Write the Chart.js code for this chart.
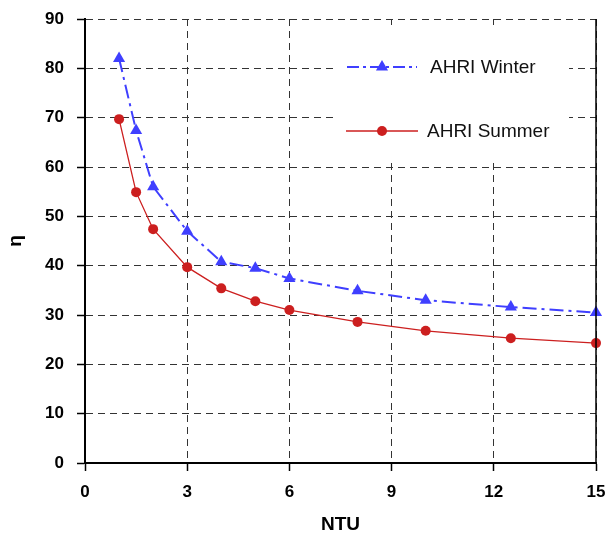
<!DOCTYPE html>
<html>
<head>
<meta charset="utf-8">
<script src="https://cdn.jsdelivr.net/npm/chart.js@4.4.0/dist/chart.umd.min.js"></script>
<style>
  html, body { margin: 0; padding: 0; background: #fff; }
  #wrap { width: 606px; height: 535px; }
</style>
</head>
<body>
<div id="wrap"><canvas id="chart"></canvas></div>
<script>
// Data
const ntu = [1, 1.5, 2, 3, 4, 5, 6, 8, 10, 12.5, 15];
const winter = [82, 67.4, 56, 47, 40.8, 39.5, 37.4, 34.9, 33, 31.6, 30.5];
const summer = [69.7, 54.9, 47.4, 39.7, 35.4, 32.8, 31, 28.6, 26.8, 25.3, 24.3];
const seriesNames = ['AHRI Winter', 'AHRI Summer'];
const xTitle = 'NTU';
const yTitle = 'η';

const BLUE = '#3f3fff';
const RED = '#cc1f1f';
const FONT = 'Arial, "Liberation Sans", sans-serif';
const WINTER_DASH = [14, 5, 3, 5];

const toPoints = (ys) => ntu.map((x, i) => ({ x: x, y: ys[i] }));

// Legend drawn inside the plot, on a white box over the grid
const insideLegend = {
  id: 'insideLegend',
  beforeDatasetsDraw(chart) {
    const ctx = chart.ctx;
    ctx.save();
    ctx.fillStyle = '#fff';
    ctx.fillRect(337, 25, 232, 138);

    // winter
    ctx.strokeStyle = BLUE;
    ctx.lineWidth = 2;
    ctx.setLineDash([12, 4, 3, 4]);
    ctx.beginPath();
    ctx.moveTo(347, 67);
    ctx.lineTo(417, 67);
    ctx.stroke();
    ctx.setLineDash([]);
    ctx.fillStyle = BLUE;
    const r = 7, cx = 382, cy = 67;
    ctx.beginPath();
    ctx.moveTo(cx, cy - r);
    ctx.lineTo(cx + r * 0.866, cy + r * 0.5);
    ctx.lineTo(cx - r * 0.866, cy + r * 0.5);
    ctx.closePath();
    ctx.fill();

    // summer
    ctx.strokeStyle = RED;
    ctx.lineWidth = 1.3;
    ctx.beginPath();
    ctx.moveTo(346, 131);
    ctx.lineTo(418, 131);
    ctx.stroke();
    ctx.fillStyle = RED;
    ctx.beginPath();
    ctx.arc(382, 131, 5, 0, Math.PI * 2);
    ctx.fill();

    ctx.fillStyle = '#111';
    ctx.font = '19px ' + FONT;
    ctx.textBaseline = 'middle';
    ctx.fillText(seriesNames[0], 430, 68);
    ctx.fillText(seriesNames[1], 427, 132);
    ctx.restore();
  },
  afterDraw(chart) {
    // solid right frame
    const a = chart.chartArea, ctx = chart.ctx;
    ctx.save();
    ctx.strokeStyle = '#000';
    ctx.lineWidth = 1.5;
    ctx.beginPath();
    ctx.moveTo(a.right, a.top);
    ctx.lineTo(a.right, a.bottom);
    ctx.stroke();
    ctx.restore();
  }
};

new Chart(document.getElementById('chart'), {
  type: 'line',
  data: {
    datasets: [{
      label: seriesNames[0],
      data: toPoints(winter),
      borderColor: BLUE,
      backgroundColor: BLUE,
      borderWidth: 2,
      borderDash: WINTER_DASH,
      pointStyle: 'triangle',
      pointRadius: 7,
      pointBorderWidth: 0,
      tension: 0,
      clip: false
    }, {
      label: seriesNames[1],
      data: toPoints(summer),
      borderColor: RED,
      backgroundColor: RED,
      borderWidth: 1.3,
      pointStyle: 'circle',
      pointRadius: 5,
      pointBorderWidth: 0,
      tension: 0,
      clip: false
    }]
  },
  options: {
    responsive: true,
    maintainAspectRatio: false,
    animation: false,
    layout: { padding: { top: 19, right: 10, left: 0, bottom: 0 } },
    plugins: {
      legend: { display: false },
      tooltip: { enabled: false }
    },
    scales: {
      x: {
        type: 'linear',
        min: 0,
        max: 15,
        ticks: { stepSize: 3, color: '#000', font: { family: FONT, size: 17, weight: 'bold' }, padding: 11 },
        grid: { color: '#333', lineWidth: 1, tickLength: 8, tickColor: '#000', tickWidth: 1.5 },
        border: { color: '#000', width: 2, dash: [7, 5] },
        title: { display: true, text: xTitle, color: '#000', font: { family: FONT, size: 19, weight: 'bold' }, padding: { top: 0, bottom: -1 } },
        afterFit: (s) => { s.height = 72; s.paddingLeft = 0; s.paddingRight = 0; }
      },
      y: {
        min: 0,
        max: 90,
        ticks: { stepSize: 10, color: '#000', font: { family: FONT, size: 17, weight: 'bold' }, padding: 13 },
        grid: { color: '#333', lineWidth: 1, tickLength: 8, tickColor: '#000', tickWidth: 1.5 },
        border: { color: '#000', width: 2, dash: [7, 5] },
        title: { display: true, text: yTitle, color: '#000', font: { family: FONT, size: 19, weight: 'bold' }, padding: { top: 4, bottom: 4 } },
        afterFit: (s) => { s.width = 85; s.paddingTop = 0; s.paddingBottom = 0; }
      }
    }
  },
  plugins: [insideLegend]
});
</script>
</body>
</html>
